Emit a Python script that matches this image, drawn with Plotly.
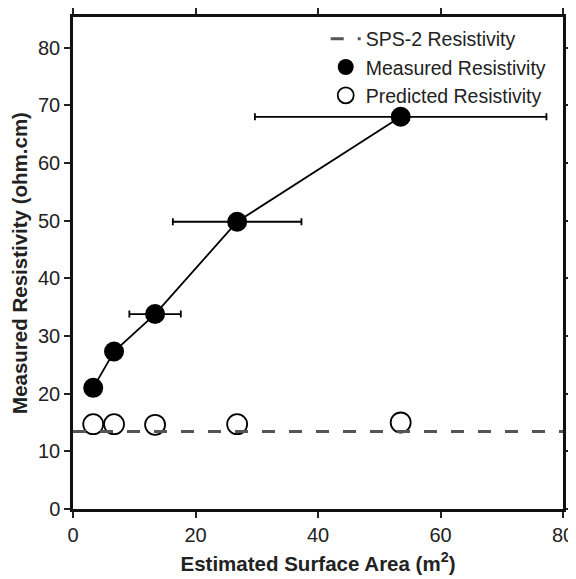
import plotly.graph_objects as go

surface_area = [3.3, 6.7, 13.4, 26.8, 53.5]
measured_res = [21.0, 27.3, 33.8, 49.8, 68.0]
measured_err = [0.0, 0.0, 4.2, 10.5, 23.8]
predicted_res = [14.7, 14.7, 14.6, 14.7, 15.0]
sps2_x = [0, 80]
sps2_res = [13.45, 13.45]

x_ticks = [0, 20, 40, 60, 80]
y_ticks = [0, 10, 20, 30, 40, 50, 60, 70, 80]

fig = go.Figure()

fig.add_trace(go.Scatter(
    x=surface_area, y=predicted_res, mode="markers", name="Predicted Resistivity",
    marker=dict(symbol="circle-open", size=20, color="black", line=dict(width=1.8)),
    legendrank=3,
))
fig.add_trace(go.Scatter(
    x=sps2_x, y=sps2_res, mode="lines", name="SPS-2 Resistivity",
    line=dict(color="#555555", width=3, dash="13px,14px"),
    legendrank=1,
))
fig.add_trace(go.Scatter(
    x=surface_area, y=measured_res, mode="lines", showlegend=False,
    line=dict(color="black", width=1.8),
))
fig.add_trace(go.Scatter(
    x=surface_area, y=measured_res, mode="markers", name="Measured Resistivity",
    marker=dict(symbol="circle", size=20, color="black"),
    error_x=dict(type="data", array=measured_err, visible=True, color="black",
                 thickness=1.8, width=3.5),
    legendrank=2,
))

# page body has an 8px margin, so the figure is offset by 8px
fig.update_layout(
    width=568, height=571,
    margin=dict(l=65, r=13, t=9, b=70),
    plot_bgcolor="white", paper_bgcolor="white",
    font=dict(family="Liberation Sans, Arial, sans-serif", size=20, color="#222222"),
    legend=dict(
        x=0.977, y=0.995, xanchor="right", yanchor="top",
        bgcolor="rgba(0,0,0,0)", font=dict(size=19.5, color="#222222"),
        tracegroupgap=0, itemwidth=30,
    ),
)

fig.update_xaxes(
    range=[0, 80], tickvals=x_ticks, ticks="outside", ticklen=6, tickwidth=2,
    tickcolor="#222222", showline=True, linewidth=2.5, linecolor="#111111",
    mirror="ticks", showgrid=False, zeroline=False, automargin=False,
    tickfont=dict(size=20),
    title=dict(text="<b>Estimated Surface Area (m<sup>2</sup>)</b>",
               font=dict(size=20.5, color="#222222"), standoff=12),
)
fig.update_yaxes(
    range=[0, 85.3], tickvals=y_ticks, ticks="outside", ticklen=6, tickwidth=2,
    tickcolor="#222222", showline=True, linewidth=2.5, linecolor="#111111",
    mirror="ticks", showgrid=False, zeroline=False, automargin=False,
    tickfont=dict(size=20),
    title=dict(text="<b>Measured Resistivity (ohm.cm)</b>",
               font=dict(size=20.5, color="#222222"), standoff=8),
)

fig.write_html("out.html", post_script="document.body.style.overflow='hidden';")
